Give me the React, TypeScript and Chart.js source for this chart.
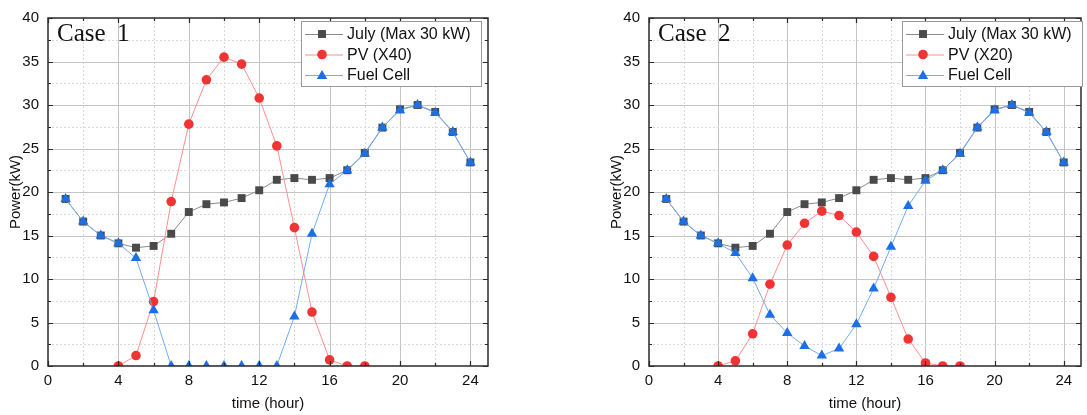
import React, { useEffect, useRef } from 'react';
import { Chart, registerables } from 'chart.js';

Chart.register(...registerables);

// ---------------- data ----------------
const hours = [1, 2, 3, 4, 5, 6, 7, 8, 9, 10, 11, 12, 13, 14, 15, 16, 17, 18, 19, 20, 21, 22, 23, 24];
const julyLoad = [19.2, 16.6, 15.0, 14.1, 13.6, 13.8, 15.2, 17.7, 18.6, 18.8, 19.3, 20.2, 21.4, 21.6, 21.4, 21.6, 22.5, 24.5, 27.4, 29.5, 30.0, 29.2, 26.9, 23.4];

const pvHours = [4, 5, 6, 7, 8, 9, 10, 11, 12, 13, 14, 15, 16, 17, 18];
const pvCase1 = [0, 1.2, 7.4, 18.9, 27.8, 32.9, 35.5, 34.7, 30.8, 25.3, 15.9, 6.2, 0.7, 0, 0];
const pvCase2 = [0, 0.6, 3.7, 9.4, 13.9, 16.4, 17.8, 17.3, 15.4, 12.6, 7.9, 3.1, 0.35, 0, 0];

const fuelCellCase1 = [19.2, 16.6, 15.0, 14.1, 12.4, 6.4, 0, 0, 0, 0, 0, 0, 0, 5.7, 15.2, 20.9, 22.5, 24.4, 27.4, 29.4, 30.0, 29.1, 26.9, 23.4];
const fuelCellCase2 = [19.2, 16.6, 15.0, 14.1, 13.0, 10.1, 5.9, 3.8, 2.3, 1.2, 2.0, 4.8, 8.9, 13.7, 18.4, 21.3, 22.5, 24.4, 27.4, 29.4, 30.0, 29.1, 26.9, 23.4];

const xTickValues = [0, 2, 4, 6, 8, 10, 12, 14, 16, 18, 20, 22, 24];
const yTickValues = [0, 2.5, 5, 7.5, 10, 12.5, 15, 17.5, 20, 22.5, 25, 27.5, 30, 32.5, 35, 37.5, 40];
const xLabelEvery = 4;
const yLabelEvery = 5;

const julyLabel = 'July (Max 30 kW)';
const fuelCellLabel = 'Fuel Cell';

// ---------------- styles ----------------
const SANS = '"Liberation Sans", Arial, sans-serif';
const SERIF = '"Liberation Serif", "Times New Roman", serif';

const julyLine = '#8a8a8a';
const julyMark = '#4a4a4a';
const pvLine = '#ff8f8f';
const pvMark = '#f03434';
const fcLine = '#74acf2';
const fcMark = '#1c6fe4';

function pairs(xs: number[], ys: number[]) {
  return xs.map((x, i) => ({ x, y: ys[i] }));
}

function drawMarker(ctx: CanvasRenderingContext2D, style: string, x: number, y: number, r: number, color: string) {
  ctx.save();
  ctx.fillStyle = color;
  ctx.beginPath();
  if (style === 'rect') {
    const s = r * Math.SQRT1_2;
    ctx.rect(x - s, y - s, 2 * s, 2 * s);
  } else if (style === 'triangle') {
    let rad = 0;
    ctx.moveTo(x + Math.sin(rad) * r, y - Math.cos(rad) * r);
    rad += (2 * Math.PI) / 3;
    ctx.lineTo(x + Math.sin(rad) * r, y - Math.cos(rad) * r);
    rad += (2 * Math.PI) / 3;
    ctx.lineTo(x + Math.sin(rad) * r, y - Math.cos(rad) * r);
    ctx.closePath();
  } else {
    ctx.arc(x, y, r, 0, Math.PI * 2);
  }
  ctx.fill();
  ctx.restore();
}

type Props = {
  caseNo: string;
  pvLabel: string;
  pv: number[];
  fc: number[];
  left: number;
  width: number;
  padRight: number;
};

function PowerChart({ caseNo, pvLabel, pv, fc, left, width, padRight }: Props) {
  const ref = useRef<HTMLCanvasElement>(null);

  useEffect(() => {
    const canvas = ref.current;
    if (!canvas) return;

    const originPlugin = {
      id: 'originFrame',
      beforeDatasetsDraw(chart: any) {
        const { ctx, chartArea: a, scales } = chart;
        const xs = scales.x;
        const ys = scales.y;
        ctx.save();
        ctx.lineWidth = 1;
        for (const v of xTickValues) {
          if (v === 0) continue;
          const px = Math.round(xs.getPixelForValue(v)) + 0.5;
          const major = v % xLabelEvery === 0;
          ctx.strokeStyle = major ? '#c4c4c4' : '#dadada';
          ctx.setLineDash(major ? [] : [2, 2]);
          ctx.beginPath();
          ctx.moveTo(px, a.top);
          ctx.lineTo(px, a.bottom);
          ctx.stroke();
        }
        for (const v of yTickValues) {
          if (v === 0 || v === 40) continue;
          const py = Math.round(ys.getPixelForValue(v)) + 0.5;
          const major = v % yLabelEvery === 0;
          ctx.strokeStyle = major ? '#c4c4c4' : '#dadada';
          ctx.setLineDash(major ? [] : [2, 2]);
          ctx.beginPath();
          ctx.moveTo(a.left, py);
          ctx.lineTo(a.right, py);
          ctx.stroke();
        }
        ctx.restore();
      },
      afterDatasetsDraw(chart: any) {
        const { ctx, chartArea: a, scales } = chart;
        const xs = scales.x;
        const ys = scales.y;
        ctx.save();
        ctx.strokeStyle = '#2a2a2a';
        ctx.lineWidth = 1.5;
        ctx.setLineDash([]);
        ctx.strokeRect(a.left, a.top, a.right - a.left, a.bottom - a.top);
        ctx.lineWidth = 1.2;
        for (const v of xTickValues) {
          const px = Math.round(xs.getPixelForValue(v)) + 0.5;
          const len = v % xLabelEvery === 0 ? 5 : 3;
          ctx.beginPath();
          ctx.moveTo(px, a.bottom);
          ctx.lineTo(px, a.bottom - len);
          ctx.moveTo(px, a.top);
          ctx.lineTo(px, a.top + len);
          ctx.stroke();
        }
        for (const v of yTickValues) {
          const py = Math.round(ys.getPixelForValue(v)) + 0.5;
          const len = v % yLabelEvery === 0 ? 5 : 3;
          ctx.beginPath();
          ctx.moveTo(a.left, py);
          ctx.lineTo(a.left + len, py);
          ctx.moveTo(a.right, py);
          ctx.lineTo(a.right - len, py);
          ctx.stroke();
        }
        ctx.restore();
      },
      afterDraw(chart: any) {
        const { ctx, chartArea: a } = chart;
        ctx.save();
        // case label
        ctx.fillStyle = '#111';
        ctx.font = `25px ${SERIF}`;
        ctx.textBaseline = 'alphabetic';
        ctx.textAlign = 'left';
        ctx.fillText('Case', a.left + 9, 41);
        ctx.fillText(caseNo, a.left + 69, 41);

        // legend
        const bx = a.left + 253;
        const by = 21.5;
        const bw = 180;
        const bh = 65;
        ctx.fillStyle = '#ffffff';
        ctx.fillRect(bx, by, bw, bh);
        ctx.strokeStyle = '#9a9a9a';
        ctx.lineWidth = 1;
        ctx.strokeRect(bx + 0.5, by, bw, bh);
        const items = [
          { label: julyLabel, line: julyLine, mark: julyMark, style: 'rect', r: 5.6 },
          { label: pvLabel, line: pvLine, mark: pvMark, style: 'circle', r: 4.8 },
          { label: fuelCellLabel, line: fcLine, mark: fcMark, style: 'triangle', r: 6 },
        ];
        ctx.font = `16px ${SANS}`;
        ctx.textBaseline = 'middle';
        items.forEach((it, i) => {
          const cy = by + 12.5 + i * 20.5;
          ctx.strokeStyle = it.line;
          ctx.lineWidth = 1;
          ctx.beginPath();
          ctx.moveTo(bx + 4, cy + 0.5);
          ctx.lineTo(bx + 42, cy + 0.5);
          ctx.stroke();
          drawMarker(ctx, it.style, bx + 21, cy + (it.style === 'triangle' ? 1 : 0), it.r, it.mark);
          ctx.fillStyle = '#111';
          ctx.fillText(it.label, bx + 46, cy + 1);
        });
        ctx.restore();
      },
    };

    const chart = new Chart(canvas, {
      type: 'line',
      data: {
        datasets: [
          {
            label: julyLabel,
            data: pairs(hours, julyLoad),
            borderColor: julyLine,
            borderWidth: 1,
            pointStyle: 'rect',
            pointRadius: 5.6,
            pointBackgroundColor: julyMark,
            pointBorderColor: julyMark,
            pointBorderWidth: 0,
            order: 3,
          },
          {
            label: pvLabel,
            data: pairs(pvHours, pv),
            borderColor: pvLine,
            borderWidth: 1,
            pointStyle: 'circle',
            pointRadius: 4.8,
            pointBackgroundColor: pvMark,
            pointBorderColor: pvMark,
            pointBorderWidth: 0,
            order: 2,
          },
          {
            label: fuelCellLabel,
            data: pairs(hours, fc),
            borderColor: fcLine,
            borderWidth: 1,
            pointStyle: 'triangle',
            pointRadius: 6,
            pointBackgroundColor: fcMark,
            pointBorderColor: fcMark,
            pointBorderWidth: 0,
            order: 1,
          },
        ],
      },
      options: {
        responsive: false,
        animation: false,
        devicePixelRatio: 1,
        layout: { padding: { top: 15, right: padRight, left: 0, bottom: 0 } },
        plugins: { legend: { display: false }, tooltip: { enabled: false } },
        elements: { line: { tension: 0 } },
        scales: {
          x: {
            type: 'linear',
            min: 0,
            max: 25,
            afterBuildTicks: (s: any) => {
              s.ticks = xTickValues.map((v) => ({ value: v }));
            },
            afterFit: (s: any) => {
              s.height = 49;
            },
            grid: { display: false, drawTicks: false },
            border: { display: false },
            ticks: {
              autoSkip: false,
              maxRotation: 0,
              padding: 6,
              color: '#111',
              font: { family: SANS, size: 15 },
              callback: (v: any) => (Number(v) % xLabelEvery === 0 ? String(v) : ''),
            },
            title: {
              display: true,
              text: 'time (hour)',
              color: '#111',
              font: { family: SANS, size: 15 },
              padding: { top: 0, bottom: 2 },
            },
          },
          y: {
            type: 'linear',
            min: 0,
            max: 40,
            afterBuildTicks: (s: any) => {
              s.ticks = yTickValues.map((v) => ({ value: v }));
            },
            afterFit: (s: any) => {
              s.width = 48;
            },
            grid: { display: false, drawTicks: false },
            border: { display: false },
            ticks: {
              autoSkip: false,
              padding: 9,
              color: '#111',
              font: { family: SANS, size: 15 },
              callback: (v: any) => (Number(v) % yLabelEvery === 0 ? String(v) : ''),
            },
            title: {
              display: true,
              text: 'Power(kW)',
              color: '#111',
              font: { family: SANS, size: 15 },
              padding: { top: 7, bottom: 0 },
            },
          },
        },
      },
      plugins: [originPlugin],
    } as any);

    return () => chart.destroy();
  }, [caseNo, pvLabel, pv, fc, padRight]);

  return (
    <canvas
      ref={ref}
      width={width}
      height={415}
      style={{ position: 'absolute', left, top: 0, width, height: 415, display: 'block' }}
    />
  );
}

export default function App() {
  return (
    <div
      style={{
        position: 'fixed',
        left: 0,
        top: 0,
        width: 1087,
        height: 415,
        background: '#ffffff',
        overflow: 'hidden',
      }}
    >
      <PowerChart caseNo="1" pvLabel="PV (X40)" pv={pvCase1} fc={fuelCellCase1} left={0} width={500} padRight={12} />
      <PowerChart caseNo="2" pvLabel="PV (X20)" pv={pvCase2} fc={fuelCellCase2} left={601} width={486} padRight={0} />
    </div>
  );
}
